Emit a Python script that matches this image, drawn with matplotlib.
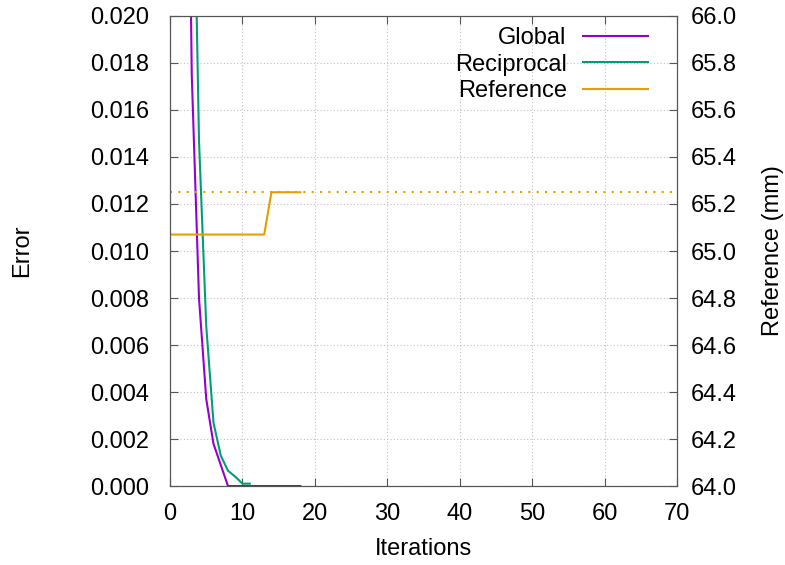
import matplotlib.pyplot as plt

plt.rcParams['font.family'] = ['Liberation Sans', 'DejaVu Sans']

# data
global_x = [2, 3, 4, 5, 6, 7, 8, 9, 10, 11, 12, 13, 14, 15, 16, 17, 18]
global_err = [0.0425, 0.0175, 0.0080, 0.0037, 0.0018, 0.0009, 0.0, 0.0, 0.0, 0.0,
              0.0, 0.0, 0.0, 0.0, 0.0, 0.0, 0.0]
recip_x = [3, 4, 5, 6, 7, 8, 9, 10, 11]
recip_err = [0.0313, 0.0147, 0.0068, 0.0027, 0.0013, 0.00065, 0.0004, 0.0001, 0.0001]
ref_x = list(range(0, 19))
ref_mm = [65.07] * 14 + [65.25] * 5
ref_target = 65.25

fs = 17

fig = plt.figure(figsize=(7.85, 5.65), dpi=100)
ax = fig.add_axes([0.2166, 0.1398, 0.6458, 0.8319])
ax2 = ax.twinx()

ax.plot(global_x, global_err, color='#9400d3', lw=1.5, label='Global')
ax.plot(recip_x, recip_err, color='#009e73', lw=1.5, label='Reciprocal')
ax2.plot(ref_x, ref_mm, color='#e69f00', lw=1.5, label='Reference')
ax2.axhline(ref_target, color='#e69f00', lw=1.5, ls=(0, (1, 3)))

ax.set_xlim(0, 70)
ax.set_ylim(0, 0.020)
ax2.set_ylim(64, 66)
ax.set_xticks(range(0, 71, 10))
ax.set_yticks([i * 0.002 for i in range(11)])
ax.set_yticklabels([f'{i * 0.002:.3f}' for i in range(11)])
ax2.set_yticks([64 + i * 0.2 for i in range(11)])
ax2.set_yticklabels([f'{64 + i * 0.2:.1f}' for i in range(11)])

ax.grid(True, color='#c0c0c0', ls=(0, (1, 2)), lw=0.8)
for a in (ax, ax2):
    for s in a.spines.values():
        s.set_color('#555555')
    a.tick_params(direction='in', length=6, color='#555555', labelsize=fs)
ax.tick_params(top=True, pad=12)
ax.tick_params(axis='y', pad=15)
ax2.tick_params(axis='y', pad=10)

ax.set_xlabel('Iterations', fontsize=fs)
ax.set_ylabel('Error', fontsize=fs)
ax2.set_ylabel('Reference (mm)', fontsize=fs)
ax.xaxis.set_label_coords(0.5, -0.134)
ax.yaxis.set_label_coords(-0.292, 0.50)
ax2.yaxis.set_label_coords(1.189, 0.50)
ax.xaxis.label.set_va('center')
ax.yaxis.label.set_va('center')
ax2.yaxis.label.set_va('center')

h1, l1 = ax.get_legend_handles_labels()
h2, l2 = ax2.get_legend_handles_labels()
leg = ax2.legend(h1 + h2, l1 + l2, loc='upper right', bbox_to_anchor=(0.943, 0.977),
                 frameon=False, fontsize=fs, markerfirst=False, handlelength=2.75,
                 labelspacing=0.2, borderaxespad=0, borderpad=0, handletextpad=0.7)
for t in leg.get_texts():
    t.set_ha('right')
leg._legend_box.align = 'right'

fig.savefig('out.png', dpi=100)
